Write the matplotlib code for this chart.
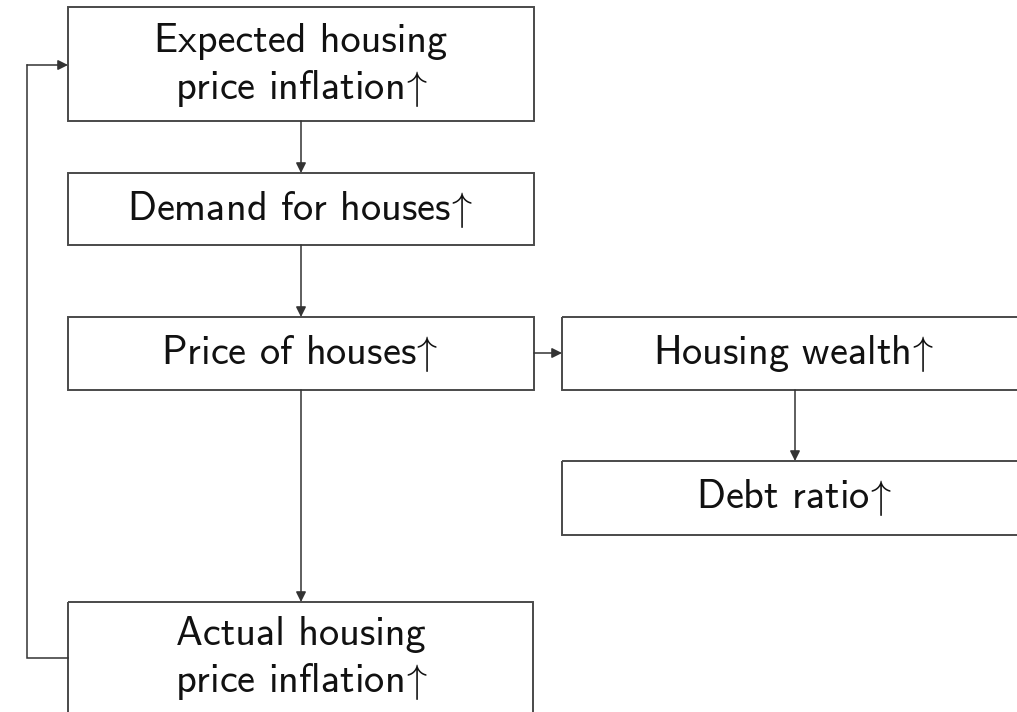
import matplotlib
matplotlib.use("Agg")
import matplotlib.pyplot as plt
from matplotlib.patches import Rectangle

# ── Boxes (pixel coordinates of the original figure, y downwards) ────────────
labels = [
    "Expected housing\nprice inflation$\\!\\uparrow$",
    "Demand for houses$\\!\\uparrow$",
    "Price of houses$\\!\\uparrow$",
    "Housing wealth$\\!\\uparrow$",
    "Debt ratio$\\!\\uparrow$",
    "Actual housing\nprice inflation$\\!\\uparrow$",
]
box_left   = [68, 68, 68, 562, 562, 68]
box_right  = [534, 534, 534, 1030, 1030, 533]
box_top    = [7, 173, 317, 317, 461, 602]
box_bottom = [121, 245, 390, 390, 535, 730]
# text centre (x, y) per box; right boxes run off the page
text_x = [301, 300, 300, 794, 794, 301]
text_y = [66, 209, 354, 354, 498, 659]

# straight arrows: (from box, to box)
edges = [(0, 1), (1, 2), (2, 5), (2, 3), (3, 4)]
edge_x = {(0, 1): 301, (1, 2): 301, (2, 5): 301, (3, 4): 795}
edge_y = {(2, 3): 353}

# feedback loop: Actual -> Expected along the left side
loop_x = 27
loop_y_from = 658
loop_y_to = 65

W, H = 1017, 712
plt.rcParams["mathtext.fontset"] = "cm"
fig = plt.figure(figsize=(W / 100, H / 100), dpi=100)
ax = fig.add_axes([0, 0, 1, 1])
ax.set_xlim(0, W)
ax.set_ylim(H, 0)
ax.axis("off")

FONT = ["cmss10", "DejaVu Sans"]
box_col = "#4a4a4a"
line_col = "#333333"
arrow_kw = dict(arrowstyle="-|>", color=line_col, lw=1.1,
                mutation_scale=15, shrinkA=0, shrinkB=0)

for i, lab in enumerate(labels):
    x0, x1 = box_left[i], box_right[i]
    y0, y1 = box_top[i], box_bottom[i]
    ax.add_patch(Rectangle((x0, y0), x1 - x0, y1 - y0, fill=False,
                           ec=box_col, lw=1.4))
    ax.text(text_x[i], text_y[i], lab, ha="center", va="center", fontsize=29,
            family=FONT, color="#111111", linespacing=1.25)

for a, b in edges:
    if (a, b) in edge_x:
        x = edge_x[(a, b)]
        ax.annotate("", xy=(x, box_top[b]), xytext=(x, box_bottom[a]),
                    arrowprops=arrow_kw)
    else:
        y = edge_y[(a, b)]
        ax.annotate("", xy=(box_left[b], y), xytext=(box_right[a], y),
                    arrowprops=arrow_kw)

# feedback path
ax.plot([box_left[5], loop_x, loop_x], [loop_y_from, loop_y_from, loop_y_to],
        color=line_col, lw=1.1, solid_joinstyle="miter")
ax.annotate("", xy=(box_left[0], loop_y_to), xytext=(loop_x, loop_y_to),
            arrowprops=arrow_kw)

fig.savefig("out.png", dpi=100, facecolor="white")
